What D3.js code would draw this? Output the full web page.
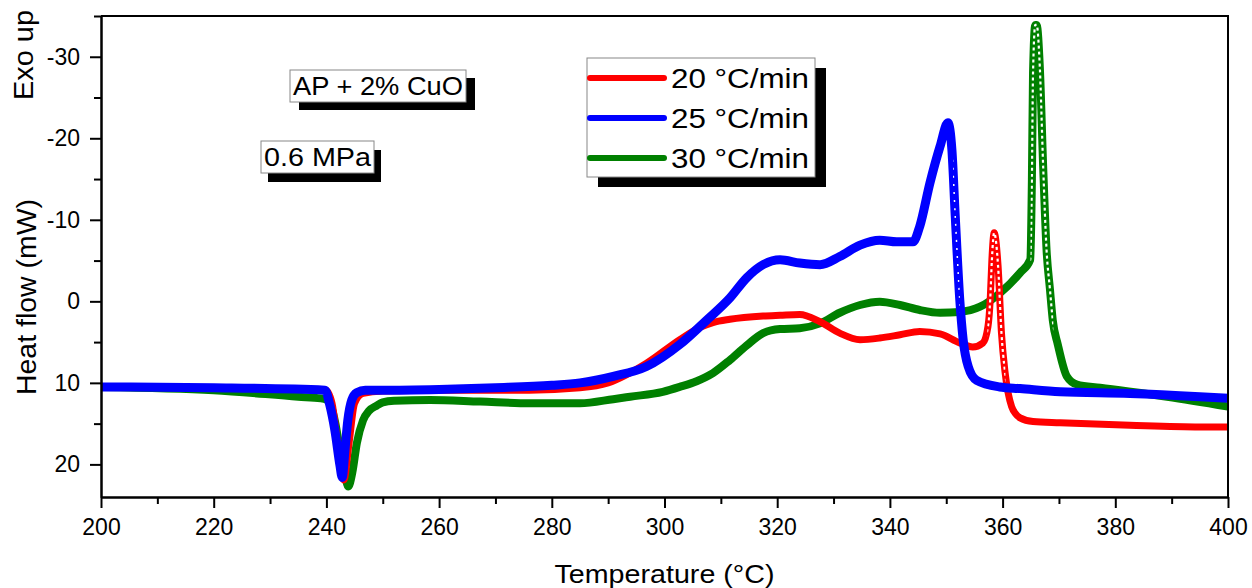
<!DOCTYPE html>
<html>
<head>
<meta charset="utf-8">
<script src="https://cdn.jsdelivr.net/npm/d3@7"></script>
<style>
body{margin:0;background:#fff;}
svg text{font-family:Arial,"Liberation Sans",sans-serif;fill:#000;}
</style>
</head>
<body>
<svg id="chart" width="1252" height="588"></svg>
<script>
const svg = d3.select("#chart"),
    width = +svg.attr("width"),
    height = +svg.attr("height");

const margin = {top:16, right:24, bottom:91, left:101};

// values (temperature in °C, heat flow in mW)
const temp_20 = [200,220,239.9,241,242,243.1,244,245,246.5,250,260,270,276,285,290,296.8,302.7,306.3,308.6,311.6,317.5,320.5,324,327.6,331.1,334.7,338.2,341.8,345.3,348.9,352.4,354.7,356.5,357.4,357.8,358.1,358.5,359.2,359.8,360.4,361.0,361.6,362.3,363.1,365.4,370.2,382.6,395,400];
const heat_20 = [10.5,10.6,10.9,12.5,17.5,21.9,17.5,12.5,11.3,11.0,10.9,10.9,10.9,10.6,10.0,7.6,4.7,3.2,2.6,2.2,1.8,1.7,1.6,2.5,3.9,4.7,4.5,4.1,3.7,4.0,5.1,5.6,5.1,3.1,-0.2,-5.1,-8.4,-4.3,3.9,8.5,11.3,12.9,13.8,14.3,14.75,14.9,15.2,15.4,15.4];

const temp_25 = [200,220,239.75,240.6,241.5,242.4,242.8,243.3,243.8,244.5,245.4,246.9,250,260,270,280,285,290.9,296.8,302.7,307.5,311.6,314.6,317.5,320.5,324,327.6,331.1,334.7,338.2,341.2,344.1,345.3,347.1,348.9,350.3,351,351.6,352.4,353,353.9,355.4,359.5,363.1,370.2,382.6,395,400];
const heat_25 = [10.5,10.6,10.9,12.7,15.8,20.1,21.6,18.2,14.6,12.1,11.2,10.9,10.9,10.8,10.6,10.3,10.0,9.2,8.0,5.3,2.3,-0.4,-2.9,-4.5,-5.1,-4.7,-4.5,-5.5,-6.9,-7.5,-7.3,-7.3,-9.2,-14.5,-19.0,-21.9,-18.6,-10.4,-0.2,4.7,8.0,9.7,10.5,10.7,11.1,11.3,11.7,11.9];

const temp_30 = [200,220,235,239,240.1,240.8,241.6,242.4,243.3,243.9,244.6,245.4,246.5,247.6,248.9,250,252,258.4,267.3,276.1,285,290.9,293.9,299.7,302.7,305.7,308.6,311.6,314.6,317.5,320.5,324,327.6,331.1,334.7,338.2,341.8,345.3,348.9,352.4,356,359.5,363.1,364.9,365.2,365.4,365.8,366.05,366.6,367.2,367.8,368.4,368.9,369.8,371.4,373.2,377.3,389.2,400];
const heat_30 = [10.5,10.9,11.7,11.9,12.1,12.8,15.0,18.2,21.3,22.7,21.0,17.4,14.6,13.4,12.8,12.4,12.2,12.1,12.3,12.5,12.5,12.0,11.7,11.1,10.5,9.8,8.8,7.2,5.4,3.9,3.4,3.3,2.7,1.4,0.45,0.04,0.45,1.06,1.4,1.3,0.66,-1.0,-3.5,-5.1,-15,-28,-33.9,-33.9,-28.8,-16.5,-6.3,-1.5,2.3,5.3,9.2,10.2,10.6,11.7,12.9];

const rates = ["20 \u00B0C/min","25 \u00B0C/min","30 \u00B0C/min"];
const colors = ["#ff0000","#0000ff","#008000"];

const x_major = [200,220,240,260,280,300,320,340,360,380,400];
const x_minor = [210,230,250,270,290,310,330,350,370,390];
const y_major = [-30,-20,-10,0,10,20];
const y_minor = [-35,-25,-15,-5,5,15];

const notes = ["AP + 2% CuO","0.6 MPa"];

const x = d3.scaleLinear().domain([200,400]).range([margin.left, width-margin.right]);
const y = d3.scaleLinear().domain([-35,24]).range([margin.top, height-margin.bottom]);

const series = [
    {name:rates[0], color:colors[0], temp:temp_20, heat:heat_20, w:7, hollow:[357.3,360.5]},
    {name:rates[1], color:colors[1], temp:temp_25, heat:heat_25, w:9, hollow:[351.2,352.4]},
    {name:rates[2], color:colors[2], temp:temp_30, heat:heat_30, w:8, hollow:[364.95,369.0]}
];

// the original text is a little wider than Arial, stretch it to the measured width
function fit(sel, w){
    sel.attr("textLength", w).attr("lengthAdjust","spacingAndGlyphs");
}

const line = d3.line()
    .x(function(d){ return x(d[0]); })
    .y(function(d){ return y(d[1]); })
    .curve(d3.curveMonotoneX);

// draw order: green under red under blue
const draw_order = [2,0,1];
const g_lines = svg.append("g");
draw_order.forEach(function(k){
    let s = series[k];
    let pts = s.temp.map(function(t,i){ return [t, s.heat[i]]; });
    g_lines.append("path")
        .attr("d", line(pts))
        .attr("fill","none")
        .attr("stroke", s.color)
        .attr("stroke-width", s.w)
        .attr("stroke-linejoin","round");

    // steep parts are drawn with hollow square symbols in the original
    let clip_id = "clip" + k;
    svg.append("clipPath").attr("id", clip_id)
        .append("rect")
        .attr("x", x(s.hollow[0]))
        .attr("y", 0)
        .attr("width", x(s.hollow[1]) - x(s.hollow[0]))
        .attr("height", height);
    g_lines.append("path")
        .attr("d", line(pts))
        .attr("clip-path","url(#" + clip_id + ")")
        .attr("fill","none")
        .attr("stroke","#fff")
        .attr("stroke-width", k == 1 ? 1.5 : 2.2)
        .attr("stroke-dasharray", k == 1 ? "2,6" : "3,3");
});

// axes
svg.append("g")
    .attr("transform","translate(0," + (height-margin.bottom) + ")")
    .call(d3.axisBottom(x).tickValues(x_major).tickSize(11).tickSizeOuter(0).tickPadding(11)
        .tickFormat(function(d){ return String(d); }));
svg.append("g")
    .attr("transform","translate(0," + (height-margin.bottom) + ")")
    .call(d3.axisBottom(x).tickValues(x_minor).tickSize(7).tickSizeOuter(0).tickFormat(""));

svg.append("g")
    .attr("transform","translate(" + margin.left + ",0)")
    .call(d3.axisLeft(y).tickValues(y_major).tickSize(11).tickSizeOuter(0).tickPadding(10)
        .tickFormat(function(d){ return String(d); }));
svg.append("g")
    .attr("transform","translate(" + margin.left + ",0)")
    .call(d3.axisLeft(y).tickValues(y_minor).tickSize(7).tickSizeOuter(0).tickFormat(""));

svg.selectAll(".domain").attr("stroke","#000").attr("stroke-width",2);
svg.selectAll(".tick line").attr("stroke","#000").attr("stroke-width",2);
svg.selectAll(".tick text")
    .style("font-size","23px")
    .style("font-family","Arial, 'Liberation Sans', sans-serif");

// top and right frame
svg.append("path")
    .attr("d","M" + margin.left + "," + margin.top + "H" + (width-margin.right) + "V" + (height-margin.bottom))
    .attr("fill","none")
    .attr("stroke","#000")
    .attr("stroke-width",2);

// axis titles
svg.append("text")
    .attr("x", (margin.left + width - margin.right)/2)
    .attr("y", 583)
    .attr("text-anchor","middle")
    .style("font-size","26px")
    .text("Temperature (\u00B0C)")
    .call(fit, 220);

svg.append("text")
    .attr("transform","translate(36,297) rotate(-90)")
    .attr("text-anchor","middle")
    .style("font-size","27px")
    .text("Heat flow (mW)")
    .call(fit, 196);

svg.append("text")
    .attr("transform","translate(33,55) rotate(-90)")
    .attr("text-anchor","middle")
    .style("font-size","27px")
    .text("Exo up")
    .call(fit, 90);

// boxed notes with a drop shadow
function shadow_box(g, px, py, txt, size, w, off){
    let t = g.append("text")
        .attr("x", px)
        .attr("y", py)
        .style("font-size", size + "px")
        .text(txt)
        .call(fit, w);
    let b = t.node().getBBox();
    let bx = px - 3, by = b.y - 2, bw = w + 6, bh = b.height + 4;
    g.insert("rect","text")
        .attr("x", bx + off[0]).attr("y", by + off[1])
        .attr("width", bw).attr("height", bh)
        .attr("fill","#000");
    g.insert("rect","text")
        .attr("x", bx).attr("y", by)
        .attr("width", bw).attr("height", bh)
        .attr("fill","#fff")
        .attr("stroke","#888")
        .attr("stroke-width",1);
}

shadow_box(svg.append("g"), 293, 95, notes[0], 25, 170, [9,8]);
shadow_box(svg.append("g"), 264, 166, notes[1], 25, 107, [7,9]);

// legend
const g_leg = svg.append("g");
g_leg.append("rect")
    .attr("x",598).attr("y",68).attr("width",228).attr("height",119)
    .attr("fill","#000");
g_leg.append("rect")
    .attr("x",587).attr("y",58).attr("width",228).attr("height",119)
    .attr("fill","#fff").attr("stroke","#888").attr("stroke-width",1);

const leg_y = d3.scalePoint().domain(rates).range([78,158]);

g_leg.selectAll("line.leg")
    .data(series)
    .enter()
    .append("line")
    .attr("class","leg")
    .attr("x1",590).attr("x2",664)
    .attr("y1",function(d){ return leg_y(d.name); })
    .attr("y2",function(d){ return leg_y(d.name); })
    .attr("stroke",function(d){ return d.color; })
    .attr("stroke-width",6)
    .attr("stroke-linecap","round");

g_leg.selectAll("text.leg")
    .data(series)
    .enter()
    .append("text")
    .attr("class","leg")
    .attr("x",671)
    .attr("y",function(d){ return leg_y(d.name) + 10; })
    .style("font-size","27px")
    .text(function(d){ return d.name; })
    .call(fit, 138);
</script>
</body>
</html>
